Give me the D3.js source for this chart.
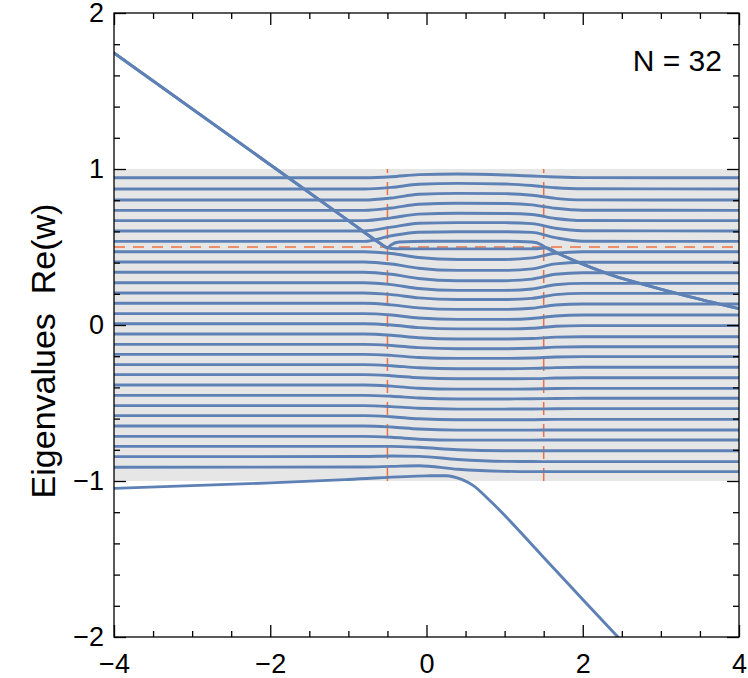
<!DOCTYPE html>
<html><head><meta charset="utf-8">
<script src="https://cdn.jsdelivr.net/npm/d3@7"></script>
<style>
html,body{margin:0;padding:0;background:#fff;}
svg text{font-family:"Liberation Sans",Arial,Helvetica,sans-serif;}
</style></head>
<body><svg id="c" width="748" height="678"></svg>
<script>
// ---- data ----
const xDomain = [-4, 4];
const yDomain = [-2, 2];
const xMajorTicks = [-4, -2, 0, 2, 4];
const xMinorTicks = [-3.5,-3,-2.5,-1.5,-1,-0.5,0.5,1,1.5,2.5,3,3.5];
const yMajorTicks = [-2, -1, 0, 1, 2];
const yMinorTicks = [-1.8,-1.6,-1.4,-1.2,-0.8,-0.6,-0.4,-0.2,0.2,0.4,0.6,0.8,1.2,1.4,1.6,1.8];
const bandRange = [-1, 1];
const dashedX = [-0.5, 1.5];
const dashedY = [0.5];
const label = "N = 32";
const yTitle = "Eigenvalues  Re(w)";

// sample x-positions for the band eigenvalue curves
const bandX = [-4, -0.8, -0.45, -0.1, 0.4, 1.0, 1.35, 1.65, 2.0, 4];
// band eigenvalues Re(w) at bandX (top to bottom)
const bandY = [
  [0.944,0.944,0.950,0.964,0.968,0.962,0.955,0.949,0.945,0.944],
  [0.872,0.872,0.882,0.902,0.908,0.904,0.894,0.880,0.873,0.872],
  [0.801,0.801,0.814,0.838,0.844,0.842,0.832,0.812,0.802,0.801],
  [0.735,0.735,0.750,0.774,0.780,0.779,0.770,0.748,0.736,0.735],
  [0.669,0.669,0.687,0.711,0.716,0.715,0.708,0.683,0.670,0.669],
  [0.603,0.603,0.627,0.652,0.656,0.656,0.650,0.620,0.604,0.603],
  [0.536,0.536,0.572,0.595,0.598,0.598,0.594,0.560,0.537,0.536],
  [0.470,0.470,0.458,0.433,0.420,0.420,0.430,0.460,0.470,0.470],
  [0.404,0.404,0.391,0.364,0.350,0.350,0.360,0.392,0.402,0.402],
  [0.338,0.338,0.325,0.298,0.284,0.284,0.294,0.325,0.335,0.335],
  [0.271,0.271,0.259,0.234,0.222,0.222,0.231,0.258,0.267,0.267],
  [0.205,0.205,0.195,0.174,0.163,0.163,0.171,0.195,0.203,0.203],
  [0.139,0.139,0.129,0.110,0.100,0.100,0.107,0.128,0.135,0.135],
  [0.073,0.073,0.064,0.045,0.036,0.036,0.042,0.058,0.064,0.064],
  [0.008,0.008,0.000,-0.017,-0.025,-0.025,-0.021,-0.008,-0.004,-0.004],
  [-0.058,-0.058,-0.066,-0.082,-0.090,-0.090,-0.087,-0.078,-0.075,-0.075],
  [-0.124,-0.124,-0.131,-0.145,-0.152,-0.152,-0.149,-0.142,-0.139,-0.139],
  [-0.188,-0.188,-0.195,-0.208,-0.214,-0.214,-0.212,-0.205,-0.203,-0.203],
  [-0.254,-0.254,-0.261,-0.274,-0.280,-0.280,-0.278,-0.273,-0.271,-0.271],
  [-0.318,-0.318,-0.325,-0.338,-0.345,-0.345,-0.344,-0.340,-0.338,-0.338],
  [-0.385,-0.385,-0.392,-0.405,-0.411,-0.411,-0.410,-0.407,-0.406,-0.406],
  [-0.451,-0.451,-0.457,-0.468,-0.474,-0.474,-0.473,-0.471,-0.470,-0.470],
  [-0.517,-0.517,-0.523,-0.534,-0.539,-0.539,-0.538,-0.537,-0.536,-0.536],
  [-0.581,-0.581,-0.588,-0.601,-0.607,-0.607,-0.607,-0.605,-0.605,-0.605],
  [-0.647,-0.647,-0.654,-0.667,-0.674,-0.674,-0.674,-0.673,-0.673,-0.673],
  [-0.714,-0.714,-0.720,-0.732,-0.738,-0.738,-0.738,-0.737,-0.737,-0.737],
  [-0.778,-0.778,-0.778,-0.784,-0.800,-0.806,-0.806,-0.806,-0.806,-0.806],
  [-0.844,-0.843,-0.840,-0.842,-0.862,-0.874,-0.875,-0.876,-0.876,-0.876],
  [-0.912,-0.910,-0.906,-0.902,-0.925,-0.938,-0.940,-0.940,-0.940,-0.940]
];
// doubly-degenerate bound state: upper branch of the loop
const boundUpperX = [-4,-2,-1,-0.6,-0.5,-0.45,-0.35,0,1.0,1.35,1.47,1.53,1.7,2.0,2.4,2.73,3.3,4];
const boundUpperY = [1.744,1.027,0.669,0.526,0.495,0.515,0.532,0.537,0.537,0.532,0.515,0.495,0.455,0.390,0.315,0.267,0.190,0.105];
// lower branch of the loop
const boundLowerX = [-4,-2,-1,-0.6,-0.5,-0.4,0,1.0,1.42,1.53,1.7,2.0,2.4,2.73,3.3,4];
const boundLowerY = [1.744,1.027,0.669,0.526,0.495,0.489,0.488,0.488,0.489,0.495,0.455,0.390,0.315,0.267,0.190,0.105];
// lowest eigenvalue leaving the band
const lowestX = [-4,-2,-1,0,0.25,0.45,0.6,0.8,1.5,2.0,2.6];
const lowestY = [-1.047,-1.012,-0.990,-0.967,-0.966,-0.990,-1.030,-1.120,-1.490,-1.760,-2.080];

// ---- layout ----
const L = 114, R = 739, T = 13, B = 637;
const blue = "#5E81B5", red = "#EE7143";
const svg = d3.select("#c");
const x = d3.scaleLinear().domain(xDomain).range([L, R]);
const y = d3.scaleLinear().domain(yDomain).range([B, T]);

svg.append("defs").append("clipPath").attr("id","clip")
  .append("rect").attr("x",L).attr("y",T).attr("width",R-L).attr("height",B-T);

const plot = svg.append("g").attr("clip-path","url(#clip)");

plot.append("rect")
  .attr("x", x(xDomain[0])).attr("width", x(xDomain[1]) - x(xDomain[0]))
  .attr("y", y(bandRange[1])).attr("height", y(bandRange[0]) - y(bandRange[1]))
  .attr("fill", "#E6E6E6");

plot.selectAll("line.vd").data(dashedX).join("line").attr("class","vd")
  .attr("x1", d=>x(d)).attr("x2", d=>x(d))
  .attr("y1", y(bandRange[0])).attr("y2", y(bandRange[1]))
  .attr("stroke", red).attr("stroke-width", 1.5).attr("stroke-dasharray","13,9");
plot.selectAll("line.hd").data(dashedY).join("line").attr("class","hd")
  .attr("x1", x(xDomain[0])).attr("x2", x(xDomain[1]))
  .attr("y1", d=>y(d)).attr("y2", d=>y(d))
  .attr("stroke", red).attr("stroke-width", 1.5).attr("stroke-dasharray","11,8");

const line = d3.line().x(d=>x(d[0])).y(d=>y(d[1])).curve(d3.curveMonotoneX);
const zipXY = (xs, ys) => xs.map((v,i)=>[v, ys[i]]);

const series = bandY.map(ys => zipXY(bandX, ys));
series.push(zipXY(boundUpperX, boundUpperY));
series.push(zipXY(boundLowerX, boundLowerY));
series.push(zipXY(lowestX, lowestY));

plot.selectAll("path.ev").data(series).join("path").attr("class","ev")
  .attr("d", line).attr("fill","none")
  .attr("stroke", blue).attr("stroke-width", 2.9)
  .attr("stroke-linejoin","round").attr("stroke-linecap","round");

// ---- axes / frame ----
const fs = 27;
function styleAxis(g){ g.select(".domain").remove(); g.selectAll(".tick line").attr("stroke","#000").attr("stroke-width",1.3); g.selectAll("text").attr("font-size",fs).attr("fill","#000").attr("font-family","'Liberation Sans', Arial, sans-serif"); }

svg.append("g").attr("transform",`translate(0,${B})`)
  .call(d3.axisBottom(x).tickValues(xMinorTicks).tickSize(-6).tickFormat("")).call(styleAxis);
svg.append("g").attr("transform",`translate(0,${B})`)
  .call(d3.axisBottom(x).tickValues(xMajorTicks).tickSize(-12).tickPadding(17).tickFormat(d3.format("d"))).call(styleAxis);
svg.append("g").attr("transform",`translate(0,${T})`)
  .call(d3.axisTop(x).tickValues(xMinorTicks).tickSize(-6).tickFormat("")).call(styleAxis);
svg.append("g").attr("transform",`translate(0,${T})`)
  .call(d3.axisTop(x).tickValues(xMajorTicks).tickSize(-12).tickFormat("")).call(styleAxis);

svg.append("g").attr("transform",`translate(${L},0)`)
  .call(d3.axisLeft(y).tickValues(yMinorTicks).tickSize(-6).tickFormat("")).call(styleAxis);
svg.append("g").attr("transform",`translate(${L},0)`)
  .call(d3.axisLeft(y).tickValues(yMajorTicks).tickSize(-12).tickPadding(10).tickFormat(d3.format("d"))).call(styleAxis);
svg.append("g").attr("transform",`translate(${R},0)`)
  .call(d3.axisRight(y).tickValues(yMinorTicks).tickSize(-6).tickFormat("")).call(styleAxis);
svg.append("g").attr("transform",`translate(${R},0)`)
  .call(d3.axisRight(y).tickValues(yMajorTicks).tickSize(-12).tickFormat("")).call(styleAxis);

svg.append("rect").attr("x",L).attr("y",T).attr("width",R-L).attr("height",B-T)
  .attr("fill","none").attr("stroke","#000").attr("stroke-width",1.3);

svg.append("text").attr("x", 722).attr("y", 71).attr("text-anchor","end")
  .attr("font-size", 30).text(label);

svg.append("text").attr("transform","translate(55,351) rotate(-90)")
  .attr("text-anchor","middle").attr("font-size", 34)
  .style("white-space","pre").text(yTitle);
</script>
</body></html>
